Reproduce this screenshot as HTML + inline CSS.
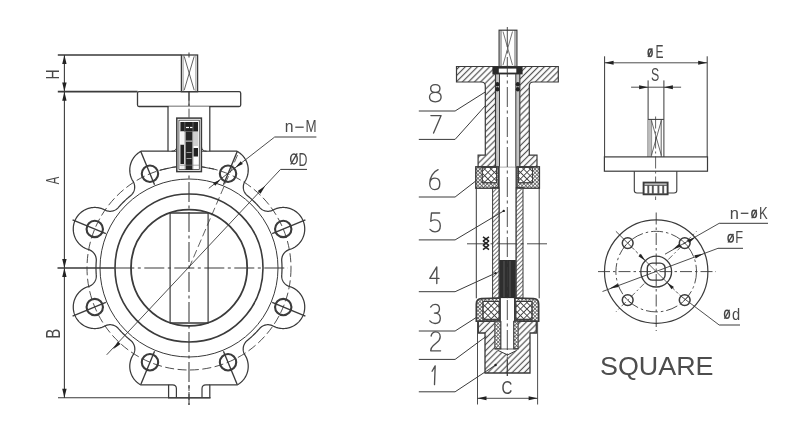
<!DOCTYPE html>
<html><head><meta charset="utf-8"><style>
html,body{margin:0;padding:0;background:#fff;}
svg{display:block;}
text{font-family:"Liberation Sans",sans-serif;opacity:0.999;}
</style></head><body>
<svg width="797" height="432" viewBox="0 0 797 432">
<defs><filter id="soft" x="0" y="0" width="797" height="432" filterUnits="userSpaceOnUse"><feGaussianBlur stdDeviation="0.45"/></filter></defs>
<g filter="url(#soft)">
<rect width="797" height="432" fill="#fff"/>
<line x1="57.80" y1="55.00" x2="181.40" y2="55.00" stroke="#3a3a3a" stroke-width="1.4" />
<line x1="57.80" y1="91.70" x2="137.50" y2="91.70" stroke="#3a3a3a" stroke-width="1.7" />
<line x1="64.40" y1="55.00" x2="64.40" y2="398.00" stroke="#3a3a3a" stroke-width="1.1" />
<polygon points="64.40,55.00 66.60,64.00 62.20,64.00" fill="#222"/>
<polygon points="64.40,91.50 62.20,82.50 66.60,82.50" fill="#222"/>
<polygon points="64.40,91.70 66.60,100.70 62.20,100.70" fill="#222"/>
<polygon points="64.40,268.00 62.20,259.00 66.60,259.00" fill="#222"/>
<polygon points="64.40,268.00 66.60,277.00 62.20,277.00" fill="#222"/>
<polygon points="64.40,397.80 62.20,388.80 66.60,388.80" fill="#222"/>
<line x1="58.00" y1="397.80" x2="210.60" y2="397.80" stroke="#3a3a3a" stroke-width="1.1" />
<path d="M89.51,249.89 L90.00,250.11 L90.47,250.35 L90.94,250.61 L91.39,250.89 L91.83,251.20 L92.25,251.53 L92.66,251.88 L93.05,252.24 L93.42,252.63 L93.77,253.03 L94.10,253.45 L94.41,253.89 L94.70,254.34 L94.97,254.80 L95.21,255.28 L95.44,255.77 L95.63,256.26 L95.80,256.77 L95.95,257.29 L96.07,257.81 L96.17,258.33 L96.24,258.86 L96.29,259.40 L96.31,259.93 L96.30,260.47 L96.27,261.00 L96.26,261.09 L96.25,261.23 L96.12,263.37 L96.11,263.50 L96.03,265.65 L96.03,265.79 L96.00,267.93 L96.00,268.07 L96.03,270.21 L96.03,270.35 L96.11,272.50 L96.12,272.63 L96.25,274.77 L96.26,274.91 L96.27,275.00 L96.30,275.53 L96.31,276.07 L96.29,276.60 L96.24,277.14 L96.17,277.67 L96.07,278.19 L95.95,278.71 L95.80,279.23 L95.63,279.74 L95.44,280.23 L95.21,280.72 L94.97,281.20 L94.70,281.66 L94.41,282.11 L94.10,282.55 L93.77,282.97 L93.42,283.37 L93.05,283.76 L92.66,284.12 L92.25,284.47 L91.83,284.80 L91.39,285.11 L90.94,285.39 L90.47,285.65 L90.00,285.89 L89.51,286.11 L89.01,286.30 L88.50,286.47 L88.39,286.50 L87.65,286.75 L87.40,286.84 L86.66,287.12 L86.41,287.23 L85.70,287.54 L85.45,287.66 L84.75,288.01 L84.51,288.14 L83.83,288.53 L83.60,288.66 L82.93,289.08 L82.71,289.23 L82.07,289.69 L81.85,289.85 L81.23,290.33 L81.02,290.50 L80.43,291.02 L80.23,291.20 L79.66,291.74 L79.47,291.93 L78.93,292.50 L78.75,292.70 L78.23,293.29 L78.06,293.50 L77.58,294.12 L77.42,294.34 L76.97,294.98 L76.82,295.20 L76.40,295.87 L76.26,296.10 L75.87,296.78 L75.74,297.02 L75.39,297.72 L75.27,297.96 L74.96,298.68 L74.85,298.93 L74.57,299.66 L74.48,299.92 L74.23,300.66 L74.15,300.92 L73.94,301.68 L73.88,301.94 L73.71,302.71 L73.65,302.97 L73.52,303.75 L73.48,304.01 L73.38,304.79 L73.36,305.06 L73.30,305.84 L73.29,306.11 L73.27,306.90 L73.27,307.17 L73.29,307.95 L73.30,308.22 L73.36,309.01 L73.38,309.28 L73.48,310.05 L73.52,310.32 L73.65,311.10 L73.71,311.36 L73.88,312.13 L73.94,312.39 L74.15,313.14 L74.23,313.40 L74.48,314.15 L74.57,314.40 L74.85,315.14 L74.96,315.38 L75.27,316.10 L75.39,316.35 L75.74,317.05 L75.87,317.29 L76.26,317.97 L76.40,318.20 L76.82,318.86 L76.97,319.09 L77.42,319.73 L77.58,319.95 L78.06,320.57 L78.23,320.78 L78.75,321.37 L78.93,321.57 L79.47,322.14 L79.66,322.33 L80.23,322.87 L80.43,323.05 L81.02,323.57 L81.23,323.74 L81.85,324.22 L82.07,324.38 L82.71,324.83 L82.93,324.98 L83.60,325.40 L83.83,325.54 L84.51,325.93 L84.75,326.06 L85.45,326.41 L85.70,326.52 L86.41,326.84 L86.66,326.95 L87.40,327.23 L87.65,327.32 L88.39,327.57 L88.65,327.64 L89.41,327.85 L89.67,327.92 L90.44,328.09 L90.70,328.14 L91.48,328.28 L91.74,328.32 L92.52,328.41 L92.79,328.44 L93.57,328.50 L93.84,328.51 L94.63,328.53 L94.90,328.53 L95.68,328.51 L95.95,328.50 L96.74,328.44 L97.01,328.41 L97.79,328.32 L98.05,328.28 L98.83,328.14 L99.09,328.09 L99.86,327.92 L100.12,327.85 L100.88,327.64 L101.13,327.57 L101.88,327.32 L102.13,327.23 L102.87,326.95 L103.12,326.84 L103.83,326.52 L104.08,326.41 L104.78,326.06 L104.87,326.00 L105.35,325.76 L105.84,325.55 L106.34,325.35 L106.85,325.18 L107.36,325.04 L107.89,324.92 L108.41,324.83 L108.94,324.76 L109.48,324.72 L110.01,324.71 L110.55,324.72 L111.08,324.75 L111.61,324.82 L112.14,324.90 L112.66,325.02 L113.18,325.16 L113.69,325.32 L114.19,325.51 L114.68,325.72 L115.16,325.96 L115.63,326.22 L116.08,326.50 L116.52,326.80 L116.95,327.13 L117.36,327.47 L117.75,327.84 L118.12,328.22 L118.48,328.62 L118.54,328.69 L118.62,328.80 L120.05,330.40 L120.14,330.50 L121.60,332.08 L121.69,332.18 L123.19,333.71 L123.29,333.81 L124.82,335.31 L124.92,335.40 L126.50,336.86 L126.60,336.95 L128.20,338.38 L128.31,338.46 L129.95,339.85 L130.05,339.93 L130.68,340.43 L131.09,340.78 L131.48,341.14 L131.85,341.52 L132.21,341.92 L132.54,342.34 L132.86,342.77 L133.15,343.22 L133.42,343.68 L133.67,344.16 L133.90,344.64 L134.10,345.14 L134.27,345.65 L134.43,346.16 L134.55,346.68 L134.65,347.20 L134.73,347.74 L134.78,348.27 L134.80,348.80 L134.80,349.34 L134.77,349.87 L134.72,350.41 L134.64,350.94 L134.53,351.46 L134.40,351.98 L134.24,352.49 L134.06,352.99 L133.85,353.49 L133.63,353.97 L133.37,354.44 L133.10,354.90 L132.85,355.29 L132.72,355.52 L132.34,356.19 L132.21,356.43 L131.86,357.12 L131.75,357.36 L131.43,358.06 L131.33,358.31 L131.05,359.03 L130.96,359.29 L130.72,360.02 L130.64,360.28 L130.44,361.02 L130.37,361.28 L130.20,362.03 L130.15,362.30 L130.02,363.06 L129.98,363.32 L129.88,364.09 L129.86,364.36 L129.80,365.13 L129.79,365.39 L129.77,366.17 L129.77,366.43 L129.79,367.21 L129.80,367.47 L129.86,368.24 L129.88,368.51 L129.98,369.28 L130.02,369.54 L130.15,370.30 L130.20,370.57 L130.37,371.32 L130.44,371.58 L130.64,372.32 L130.72,372.58 L130.96,373.31 L131.05,373.57 L131.33,374.29 L131.43,374.54 L131.75,375.24 L131.86,375.48 L132.21,376.17 L132.34,376.41 L132.72,377.08 L132.85,377.31 L133.27,377.96 L133.42,378.19 L133.86,378.82 L134.02,379.04 L134.50,379.64 L134.67,379.85 L135.17,380.43 L135.35,380.63 L135.88,381.19 L136.07,381.38 L136.63,381.92 L136.83,382.10 L137.41,382.60 L137.62,382.77 L138.23,383.24 L138.45,383.41 L139.08,383.85 L139.30,384.00 L139.95,384.41 L140.18,384.55 L140.63,384.80 L150.00,384.80 L161.31,384.80 L168.60,384.80 L168.60,397.80 L209.80,397.80 L209.80,384.80 L216.69,384.80 L228.00,384.80 L237.37,384.80 L237.82,384.55 L238.05,384.41 L238.70,384.00 L238.92,383.85 L239.55,383.41 L239.77,383.24 L240.38,382.77 L240.59,382.60 L241.17,382.10 L241.37,381.92 L241.93,381.38 L242.12,381.19 L242.65,380.63 L242.83,380.43 L243.33,379.85 L243.50,379.64 L243.98,379.04 L244.14,378.82 L244.58,378.19 L244.73,377.96 L245.15,377.31 L245.28,377.08 L245.66,376.41 L245.79,376.17 L246.14,375.48 L246.25,375.24 L246.57,374.54 L246.67,374.29 L246.95,373.57 L247.04,373.31 L247.28,372.58 L247.36,372.32 L247.56,371.58 L247.63,371.32 L247.80,370.57 L247.85,370.30 L247.98,369.54 L248.02,369.28 L248.12,368.51 L248.14,368.24 L248.20,367.47 L248.21,367.21 L248.23,366.43 L248.23,366.17 L248.21,365.39 L248.20,365.13 L248.14,364.36 L248.12,364.09 L248.02,363.32 L247.98,363.06 L247.85,362.30 L247.80,362.03 L247.63,361.28 L247.56,361.02 L247.36,360.28 L247.28,360.02 L247.04,359.29 L246.95,359.03 L246.67,358.31 L246.57,358.06 L246.25,357.36 L246.14,357.12 L245.79,356.43 L245.66,356.19 L245.28,355.52 L245.15,355.29 L244.90,354.90 L244.63,354.44 L244.37,353.97 L244.15,353.49 L243.94,352.99 L243.76,352.49 L243.60,351.98 L243.47,351.46 L243.36,350.94 L243.28,350.41 L243.23,349.87 L243.20,349.34 L243.20,348.80 L243.22,348.27 L243.27,347.74 L243.35,347.20 L243.45,346.68 L243.57,346.16 L243.73,345.65 L243.90,345.14 L244.10,344.64 L244.33,344.16 L244.58,343.68 L244.85,343.22 L245.14,342.77 L245.46,342.34 L245.79,341.92 L246.15,341.52 L246.52,341.14 L246.91,340.78 L247.32,340.43 L247.95,339.93 L248.05,339.85 L249.69,338.46 L249.80,338.38 L251.40,336.95 L251.50,336.86 L253.08,335.40 L253.18,335.31 L254.71,333.81 L254.81,333.71 L256.31,332.18 L256.40,332.08 L257.86,330.50 L257.95,330.40 L259.38,328.80 L259.46,328.69 L259.52,328.62 L259.88,328.22 L260.25,327.84 L260.64,327.47 L261.05,327.13 L261.48,326.80 L261.92,326.50 L262.37,326.22 L262.84,325.96 L263.32,325.72 L263.81,325.51 L264.31,325.32 L264.82,325.16 L265.34,325.02 L265.86,324.90 L266.39,324.82 L266.92,324.75 L267.45,324.72 L267.99,324.71 L268.52,324.72 L269.06,324.76 L269.59,324.83 L270.11,324.92 L270.64,325.04 L271.15,325.18 L271.66,325.35 L272.16,325.55 L272.65,325.76 L273.13,326.00 L273.22,326.06 L273.92,326.41 L274.17,326.52 L274.88,326.84 L275.13,326.95 L275.87,327.23 L276.12,327.32 L276.87,327.57 L277.12,327.64 L277.88,327.85 L278.14,327.92 L278.91,328.09 L279.17,328.14 L279.95,328.28 L280.21,328.32 L280.99,328.41 L281.26,328.44 L282.05,328.50 L282.32,328.51 L283.10,328.53 L283.37,328.53 L284.16,328.51 L284.43,328.50 L285.21,328.44 L285.48,328.41 L286.26,328.32 L286.52,328.28 L287.30,328.14 L287.56,328.09 L288.33,327.92 L288.59,327.85 L289.35,327.64 L289.61,327.57 L290.35,327.32 L290.60,327.23 L291.34,326.95 L291.59,326.84 L292.30,326.52 L292.55,326.41 L293.25,326.06 L293.49,325.93 L294.17,325.54 L294.40,325.40 L295.07,324.98 L295.29,324.83 L295.93,324.38 L296.15,324.22 L296.77,323.74 L296.98,323.57 L297.57,323.05 L297.77,322.87 L298.34,322.33 L298.53,322.14 L299.07,321.57 L299.25,321.37 L299.77,320.78 L299.94,320.57 L300.42,319.95 L300.58,319.73 L301.03,319.09 L301.18,318.86 L301.60,318.20 L301.74,317.97 L302.13,317.29 L302.26,317.05 L302.61,316.35 L302.73,316.10 L303.04,315.38 L303.15,315.14 L303.43,314.40 L303.52,314.15 L303.77,313.40 L303.85,313.14 L304.06,312.39 L304.12,312.13 L304.29,311.36 L304.35,311.10 L304.48,310.32 L304.52,310.05 L304.62,309.28 L304.64,309.01 L304.70,308.22 L304.71,307.95 L304.73,307.17 L304.73,306.90 L304.71,306.11 L304.70,305.84 L304.64,305.06 L304.62,304.79 L304.52,304.01 L304.48,303.75 L304.35,302.97 L304.29,302.71 L304.12,301.94 L304.06,301.68 L303.85,300.92 L303.77,300.66 L303.52,299.92 L303.43,299.66 L303.15,298.93 L303.04,298.68 L302.73,297.96 L302.61,297.72 L302.26,297.02 L302.13,296.78 L301.74,296.10 L301.60,295.87 L301.18,295.20 L301.03,294.98 L300.58,294.34 L300.42,294.12 L299.94,293.50 L299.77,293.29 L299.25,292.70 L299.07,292.50 L298.53,291.93 L298.34,291.74 L297.77,291.20 L297.57,291.02 L296.98,290.50 L296.77,290.33 L296.15,289.85 L295.93,289.69 L295.29,289.23 L295.07,289.08 L294.40,288.66 L294.17,288.53 L293.49,288.14 L293.25,288.01 L292.55,287.66 L292.30,287.54 L291.59,287.23 L291.34,287.12 L290.60,286.84 L290.35,286.75 L289.61,286.50 L289.50,286.47 L288.99,286.30 L288.49,286.11 L288.00,285.89 L287.53,285.65 L287.06,285.39 L286.61,285.11 L286.17,284.80 L285.75,284.47 L285.34,284.12 L284.95,283.76 L284.58,283.37 L284.23,282.97 L283.90,282.55 L283.59,282.11 L283.30,281.66 L283.03,281.20 L282.79,280.72 L282.56,280.23 L282.37,279.74 L282.20,279.23 L282.05,278.71 L281.93,278.19 L281.83,277.67 L281.76,277.14 L281.71,276.60 L281.69,276.07 L281.70,275.53 L281.73,275.00 L281.74,274.91 L281.75,274.77 L281.88,272.63 L281.89,272.50 L281.97,270.35 L281.97,270.21 L282.00,268.07 L282.00,267.93 L281.97,265.79 L281.97,265.65 L281.89,263.50 L281.88,263.37 L281.75,261.23 L281.74,261.09 L281.73,261.00 L281.70,260.47 L281.69,259.93 L281.71,259.40 L281.76,258.86 L281.83,258.33 L281.93,257.81 L282.05,257.29 L282.20,256.77 L282.37,256.26 L282.56,255.77 L282.79,255.28 L283.03,254.80 L283.30,254.34 L283.59,253.89 L283.90,253.45 L284.23,253.03 L284.58,252.63 L284.95,252.24 L285.34,251.88 L285.75,251.53 L286.17,251.20 L286.61,250.89 L287.06,250.61 L287.53,250.35 L288.00,250.11 L288.49,249.89 L288.99,249.70 L289.50,249.53 L289.61,249.50 L290.35,249.25 L290.60,249.16 L291.34,248.88 L291.59,248.77 L292.30,248.46 L292.55,248.34 L293.25,247.99 L293.49,247.86 L294.17,247.47 L294.40,247.34 L295.07,246.92 L295.29,246.77 L295.93,246.31 L296.15,246.15 L296.77,245.67 L296.98,245.50 L297.57,244.98 L297.77,244.80 L298.34,244.26 L298.53,244.07 L299.07,243.50 L299.25,243.30 L299.77,242.71 L299.94,242.50 L300.42,241.88 L300.58,241.66 L301.03,241.02 L301.18,240.80 L301.60,240.13 L301.74,239.90 L302.13,239.22 L302.26,238.98 L302.61,238.28 L302.73,238.04 L303.04,237.32 L303.15,237.07 L303.43,236.34 L303.52,236.08 L303.77,235.34 L303.85,235.08 L304.06,234.32 L304.12,234.06 L304.29,233.29 L304.35,233.03 L304.48,232.25 L304.52,231.99 L304.62,231.21 L304.64,230.94 L304.70,230.16 L304.71,229.89 L304.73,229.10 L304.73,228.83 L304.71,228.05 L304.70,227.78 L304.64,226.99 L304.62,226.72 L304.52,225.95 L304.48,225.68 L304.35,224.90 L304.29,224.64 L304.12,223.87 L304.06,223.61 L303.85,222.86 L303.77,222.60 L303.52,221.85 L303.43,221.60 L303.15,220.86 L303.04,220.62 L302.73,219.90 L302.61,219.65 L302.26,218.95 L302.13,218.71 L301.74,218.03 L301.60,217.80 L301.18,217.14 L301.03,216.91 L300.58,216.27 L300.42,216.05 L299.94,215.43 L299.77,215.22 L299.25,214.63 L299.07,214.43 L298.53,213.86 L298.34,213.67 L297.77,213.13 L297.57,212.95 L296.98,212.43 L296.77,212.26 L296.15,211.78 L295.93,211.62 L295.29,211.17 L295.07,211.02 L294.40,210.60 L294.17,210.46 L293.49,210.07 L293.25,209.94 L292.55,209.59 L292.30,209.48 L291.59,209.16 L291.34,209.05 L290.60,208.77 L290.35,208.68 L289.61,208.43 L289.35,208.36 L288.59,208.15 L288.33,208.08 L287.56,207.91 L287.30,207.86 L286.52,207.72 L286.26,207.68 L285.48,207.59 L285.21,207.56 L284.43,207.50 L284.16,207.49 L283.37,207.47 L283.10,207.47 L282.32,207.49 L282.05,207.50 L281.26,207.56 L280.99,207.59 L280.21,207.68 L279.95,207.72 L279.17,207.86 L278.91,207.91 L278.14,208.08 L277.88,208.15 L277.12,208.36 L276.87,208.43 L276.12,208.68 L275.87,208.77 L275.13,209.05 L274.88,209.16 L274.17,209.48 L273.92,209.59 L273.22,209.94 L273.13,210.00 L272.65,210.24 L272.16,210.45 L271.66,210.65 L271.15,210.82 L270.64,210.96 L270.11,211.08 L269.59,211.17 L269.06,211.24 L268.52,211.28 L267.99,211.29 L267.45,211.28 L266.92,211.25 L266.39,211.18 L265.86,211.10 L265.34,210.98 L264.82,210.84 L264.31,210.68 L263.81,210.49 L263.32,210.28 L262.84,210.04 L262.37,209.78 L261.92,209.50 L261.48,209.20 L261.05,208.87 L260.64,208.53 L260.25,208.16 L259.88,207.78 L259.52,207.38 L259.46,207.31 L259.38,207.20 L257.95,205.60 L257.86,205.50 L256.40,203.92 L256.31,203.82 L254.81,202.29 L254.71,202.19 L253.18,200.69 L253.08,200.60 L251.50,199.14 L251.40,199.05 L249.80,197.62 L249.69,197.54 L248.05,196.15 L247.95,196.07 L247.45,195.67 L247.04,195.33 L246.65,194.96 L246.27,194.58 L245.92,194.18 L245.58,193.76 L245.27,193.33 L244.97,192.88 L244.70,192.42 L244.45,191.94 L244.23,191.46 L244.03,190.96 L243.85,190.46 L243.70,189.94 L243.57,189.42 L243.47,188.90 L243.40,188.37 L243.35,187.83 L243.32,187.30 L243.33,186.76 L243.36,186.23 L243.41,185.70 L243.49,185.17 L243.60,184.64 L243.73,184.12 L243.88,183.61 L244.07,183.11 L244.27,182.61 L244.50,182.13 L244.75,181.66 L245.03,181.20 L245.15,181.01 L245.28,180.78 L245.66,180.11 L245.79,179.87 L246.14,179.18 L246.25,178.94 L246.57,178.24 L246.67,177.99 L246.95,177.27 L247.04,177.01 L247.28,176.28 L247.36,176.02 L247.56,175.28 L247.63,175.02 L247.80,174.27 L247.85,174.00 L247.98,173.24 L248.02,172.98 L248.12,172.21 L248.14,171.94 L248.20,171.17 L248.21,170.91 L248.23,170.13 L248.23,169.87 L248.21,169.09 L248.20,168.83 L248.14,168.06 L248.12,167.79 L248.02,167.02 L247.98,166.76 L247.85,166.00 L247.80,165.73 L247.63,164.98 L247.56,164.72 L247.36,163.98 L247.28,163.72 L247.04,162.99 L246.95,162.73 L246.67,162.01 L246.57,161.76 L246.25,161.06 L246.14,160.82 L245.79,160.13 L245.66,159.89 L245.28,159.22 L245.15,158.99 L244.73,158.34 L244.58,158.11 L244.14,157.48 L243.98,157.26 L243.50,156.66 L243.33,156.45 L242.83,155.87 L242.65,155.67 L242.12,155.11 L241.93,154.92 L241.37,154.38 L241.17,154.20 L240.59,153.70 L240.38,153.53 L239.77,153.06 L239.55,152.89 L238.92,152.45 L238.70,152.30 L238.05,151.89 L237.82,151.75 L237.14,151.37 L236.91,151.24 L236.82,151.20 L228.00,151.20 L217.25,151.20 L160.75,151.20 L150.00,151.20 L141.18,151.20 L141.09,151.24 L140.86,151.37 L140.18,151.75 L139.95,151.89 L139.30,152.30 L139.08,152.45 L138.45,152.89 L138.23,153.06 L137.62,153.53 L137.41,153.70 L136.83,154.20 L136.63,154.38 L136.07,154.92 L135.88,155.11 L135.35,155.67 L135.17,155.87 L134.67,156.45 L134.50,156.66 L134.02,157.26 L133.86,157.48 L133.42,158.11 L133.27,158.34 L132.85,158.99 L132.72,159.22 L132.34,159.89 L132.21,160.13 L131.86,160.82 L131.75,161.06 L131.43,161.76 L131.33,162.01 L131.05,162.73 L130.96,162.99 L130.72,163.72 L130.64,163.98 L130.44,164.72 L130.37,164.98 L130.20,165.73 L130.15,166.00 L130.02,166.76 L129.98,167.02 L129.88,167.79 L129.86,168.06 L129.80,168.83 L129.79,169.09 L129.77,169.87 L129.77,170.13 L129.79,170.91 L129.80,171.17 L129.86,171.94 L129.88,172.21 L129.98,172.98 L130.02,173.24 L130.15,174.00 L130.20,174.27 L130.37,175.02 L130.44,175.28 L130.64,176.02 L130.72,176.28 L130.96,177.01 L131.05,177.27 L131.33,177.99 L131.43,178.24 L131.75,178.94 L131.86,179.18 L132.21,179.87 L132.34,180.11 L132.72,180.78 L132.85,181.01 L132.97,181.20 L133.25,181.66 L133.50,182.13 L133.73,182.61 L133.93,183.11 L134.12,183.61 L134.27,184.12 L134.40,184.64 L134.51,185.17 L134.59,185.70 L134.64,186.23 L134.67,186.76 L134.68,187.30 L134.65,187.83 L134.60,188.37 L134.53,188.90 L134.43,189.42 L134.30,189.94 L134.15,190.46 L133.97,190.96 L133.77,191.46 L133.55,191.94 L133.30,192.42 L133.03,192.88 L132.73,193.33 L132.42,193.76 L132.08,194.18 L131.73,194.58 L131.35,194.96 L130.96,195.33 L130.55,195.67 L130.05,196.07 L129.95,196.15 L128.31,197.54 L128.20,197.62 L126.60,199.05 L126.50,199.14 L124.92,200.60 L124.82,200.69 L123.29,202.19 L123.19,202.29 L121.69,203.82 L121.60,203.92 L120.14,205.50 L120.05,205.60 L118.62,207.20 L118.54,207.31 L118.48,207.38 L118.12,207.78 L117.75,208.16 L117.36,208.53 L116.95,208.87 L116.52,209.20 L116.08,209.50 L115.63,209.78 L115.16,210.04 L114.68,210.28 L114.19,210.49 L113.69,210.68 L113.18,210.84 L112.66,210.98 L112.14,211.10 L111.61,211.18 L111.08,211.25 L110.55,211.28 L110.01,211.29 L109.48,211.28 L108.94,211.24 L108.41,211.17 L107.89,211.08 L107.36,210.96 L106.85,210.82 L106.34,210.65 L105.84,210.45 L105.35,210.24 L104.87,210.00 L104.78,209.94 L104.08,209.59 L103.83,209.48 L103.12,209.16 L102.87,209.05 L102.13,208.77 L101.88,208.68 L101.13,208.43 L100.88,208.36 L100.12,208.15 L99.86,208.08 L99.09,207.91 L98.83,207.86 L98.05,207.72 L97.79,207.68 L97.01,207.59 L96.74,207.56 L95.95,207.50 L95.68,207.49 L94.90,207.47 L94.63,207.47 L93.84,207.49 L93.57,207.50 L92.79,207.56 L92.52,207.59 L91.74,207.68 L91.48,207.72 L90.70,207.86 L90.44,207.91 L89.67,208.08 L89.41,208.15 L88.65,208.36 L88.39,208.43 L87.65,208.68 L87.40,208.77 L86.66,209.05 L86.41,209.16 L85.70,209.48 L85.45,209.59 L84.75,209.94 L84.51,210.07 L83.83,210.46 L83.60,210.60 L82.93,211.02 L82.71,211.17 L82.07,211.62 L81.85,211.78 L81.23,212.26 L81.02,212.43 L80.43,212.95 L80.23,213.13 L79.66,213.67 L79.47,213.86 L78.93,214.43 L78.75,214.63 L78.23,215.22 L78.06,215.43 L77.58,216.05 L77.42,216.27 L76.97,216.91 L76.82,217.14 L76.40,217.80 L76.26,218.03 L75.87,218.71 L75.74,218.95 L75.39,219.65 L75.27,219.90 L74.96,220.62 L74.85,220.86 L74.57,221.60 L74.48,221.85 L74.23,222.60 L74.15,222.86 L73.94,223.61 L73.88,223.87 L73.71,224.64 L73.65,224.90 L73.52,225.68 L73.48,225.95 L73.38,226.72 L73.36,226.99 L73.30,227.78 L73.29,228.05 L73.27,228.83 L73.27,229.10 L73.29,229.89 L73.30,230.16 L73.36,230.94 L73.38,231.21 L73.48,231.99 L73.52,232.25 L73.65,233.03 L73.71,233.29 L73.88,234.06 L73.94,234.32 L74.15,235.08 L74.23,235.34 L74.48,236.08 L74.57,236.34 L74.85,237.07 L74.96,237.32 L75.27,238.04 L75.39,238.28 L75.74,238.98 L75.87,239.22 L76.26,239.90 L76.40,240.13 L76.82,240.80 L76.97,241.02 L77.42,241.66 L77.58,241.88 L78.06,242.50 L78.23,242.71 L78.75,243.30 L78.93,243.50 L79.47,244.07 L79.66,244.26 L80.23,244.80 L80.43,244.98 L81.02,245.50 L81.23,245.67 L81.85,246.15 L82.07,246.31 L82.71,246.77 L82.93,246.92 L83.60,247.34 L83.83,247.47 L84.51,247.86 L84.75,247.99 L85.45,248.34 L85.70,248.46 L86.41,248.77 L86.66,248.88 L87.40,249.16 L87.65,249.25 L88.39,249.50 L88.50,249.53 L89.01,249.70 L89.51,249.89Z" stroke="#3a3a3a" stroke-width="1.25" fill="none" />
<circle cx="283.24" cy="228.97" r="8.20" stroke="#3a3a3a" stroke-width="2.1" fill="none" />
<line x1="272.15" y1="233.56" x2="305.41" y2="219.78" stroke="#3a3a3a" stroke-width="1.35" />
<circle cx="228.03" cy="173.76" r="8.20" stroke="#3a3a3a" stroke-width="2.1" fill="none" />
<line x1="223.44" y1="184.85" x2="237.22" y2="151.59" stroke="#3a3a3a" stroke-width="1.35" />
<circle cx="149.97" cy="173.76" r="8.20" stroke="#3a3a3a" stroke-width="2.1" fill="none" />
<line x1="154.56" y1="184.85" x2="140.78" y2="151.59" stroke="#3a3a3a" stroke-width="1.35" />
<circle cx="94.76" cy="228.97" r="8.20" stroke="#3a3a3a" stroke-width="2.1" fill="none" />
<line x1="105.85" y1="233.56" x2="72.59" y2="219.78" stroke="#3a3a3a" stroke-width="1.35" />
<circle cx="94.76" cy="307.03" r="8.20" stroke="#3a3a3a" stroke-width="2.1" fill="none" />
<line x1="105.85" y1="302.44" x2="72.59" y2="316.22" stroke="#3a3a3a" stroke-width="1.35" />
<circle cx="149.97" cy="362.24" r="8.20" stroke="#3a3a3a" stroke-width="2.1" fill="none" />
<line x1="154.56" y1="351.15" x2="140.78" y2="384.41" stroke="#3a3a3a" stroke-width="1.35" />
<circle cx="228.03" cy="362.24" r="8.20" stroke="#3a3a3a" stroke-width="2.1" fill="none" />
<line x1="223.44" y1="351.15" x2="237.22" y2="384.41" stroke="#3a3a3a" stroke-width="1.35" />
<circle cx="283.24" cy="307.03" r="8.20" stroke="#3a3a3a" stroke-width="2.1" fill="none" />
<line x1="272.15" y1="302.44" x2="305.41" y2="316.22" stroke="#3a3a3a" stroke-width="1.35" />
<circle cx="189.00" cy="268.00" r="102.00" stroke="#3a3a3a" stroke-width="0.9" fill="none" stroke-dasharray="9 3.5"/>
<path d="M159.60,170.33 A102.0,102.0 0 0 1 214.00,169.11" stroke="#3a3a3a" stroke-width="1.0" fill="none" />
<circle cx="189.00" cy="268.00" r="89.00" stroke="#3a3a3a" stroke-width="1.0" fill="none" />
<circle cx="189.00" cy="268.00" r="74.00" stroke="#3a3a3a" stroke-width="1.6" fill="none" />
<circle cx="189.10" cy="267.80" r="58.10" stroke="#3a3a3a" stroke-width="1.8" fill="none" />
<line x1="170.10" y1="212.50" x2="170.10" y2="323.60" stroke="#3a3a3a" stroke-width="1.2" />
<line x1="208.10" y1="212.50" x2="208.10" y2="323.60" stroke="#3a3a3a" stroke-width="1.2" />
<line x1="170.10" y1="213.00" x2="208.10" y2="213.00" stroke="#3a3a3a" stroke-width="1.5" />
<line x1="170.10" y1="323.10" x2="208.10" y2="323.10" stroke="#3a3a3a" stroke-width="1.5" />
<line x1="189.00" y1="52.50" x2="189.00" y2="57.50" stroke="#3a3a3a" stroke-width="1.0" />
<line x1="189.00" y1="92.00" x2="189.00" y2="405.00" stroke="#3a3a3a" stroke-width="1.05" stroke-dasharray="20 3.5 3 3.5"/>
<line x1="57.50" y1="268.00" x2="114.30" y2="268.00" stroke="#3a3a3a" stroke-width="1.3" />
<line x1="114.30" y1="268.00" x2="288.00" y2="268.00" stroke="#3a3a3a" stroke-width="1.05" stroke-dasharray="20 3.5 3 3.5"/>
<path d="M168.6,384.8 L172.5,384.8 Q176.4,384.8 176.4,388.7 L176.4,397.8" stroke="#3a3a3a" stroke-width="1.2" fill="none" />
<path d="M209.8,384.8 L205.9,384.8 Q202,384.8 202,388.7 L202,397.8" stroke="#3a3a3a" stroke-width="1.2" fill="none" />
<line x1="189.00" y1="385.00" x2="189.00" y2="405.00" stroke="#3a3a3a" stroke-width="0.9" stroke-dasharray="6 3"/>
<line x1="106.70" y1="354.80" x2="280.50" y2="169.40" stroke="#3a3a3a" stroke-width="0.9" />
<line x1="280.50" y1="169.40" x2="307.00" y2="169.40" stroke="#3a3a3a" stroke-width="1.0" />
<polygon points="113.10,349.30 117.94,341.50 120.57,343.96" fill="#222"/>
<polygon points="265.30,185.80 260.53,193.67 257.76,191.07" fill="#222"/>
<line x1="208.80" y1="188.30" x2="274.70" y2="137.00" stroke="#3a3a3a" stroke-width="0.9" />
<line x1="274.70" y1="137.00" x2="316.40" y2="137.00" stroke="#3a3a3a" stroke-width="1.0" />
<polygon points="220.50,179.50 215.33,185.87 213.10,183.04" fill="#222"/>
<polygon points="235.50,167.50 240.67,161.13 242.90,163.96" fill="#222"/>
<line x1="189.00" y1="268.00" x2="238.00" y2="154.00" stroke="#3a3a3a" stroke-width="0.8" stroke-dasharray="8 3.5"/>
<rect x="181.40" y="55.00" width="16.20" height="36.70" stroke="#3a3a3a" stroke-width="1.3" fill="none" />
<line x1="183.10" y1="55.00" x2="183.10" y2="91.70" stroke="#666" stroke-width="0.7" />
<line x1="195.90" y1="55.00" x2="195.90" y2="91.70" stroke="#666" stroke-width="0.7" />
<line x1="184.20" y1="56.30" x2="194.20" y2="90.20" stroke="#3a3a3a" stroke-width="0.8" />
<line x1="194.20" y1="56.30" x2="184.20" y2="90.20" stroke="#3a3a3a" stroke-width="0.8" />
<rect x="137.50" y="91.70" width="103.20" height="14.80" stroke="#3a3a3a" stroke-width="1.3" fill="none" rx="1.5"/>
<rect x="168.60" y="106.50" width="40.60" height="43.90" stroke="none" stroke-width="0" fill="#fff" />
<line x1="168.00" y1="106.50" x2="168.00" y2="151.20" stroke="#3a3a3a" stroke-width="1.25" />
<line x1="209.80" y1="106.50" x2="209.80" y2="151.20" stroke="#3a3a3a" stroke-width="1.25" />
<line x1="189.00" y1="91.70" x2="189.00" y2="118.00" stroke="#3a3a3a" stroke-width="0.9" stroke-dasharray="9 3 2 3"/>
<path d="M171.5,151.2 Q176.8,151.2 176.8,146 M206.7,151.2 Q201.4,151.2 201.4,146" stroke="#3a3a3a" stroke-width="1.0" fill="none" />
<rect x="176.80" y="118.10" width="24.60" height="53.50" stroke="#3a3a3a" stroke-width="1.5" fill="#fff" />
<rect x="178.90" y="120.20" width="20.40" height="49.20" stroke="#3a3a3a" stroke-width="0.8" fill="none" />
<rect x="180.40" y="122.00" width="17.60" height="9.50" stroke="none" stroke-width="0" fill="#222" />
<rect x="180.40" y="144.50" width="3.60" height="19.50" stroke="none" stroke-width="0" fill="#222" />
<rect x="185.50" y="131.50" width="7.00" height="38.50" stroke="none" stroke-width="0" fill="#262626" />
<rect x="193.50" y="148.00" width="4.50" height="8.50" stroke="none" stroke-width="0" fill="#222" />
<rect x="193.50" y="132.00" width="4.50" height="14.00" stroke="none" stroke-width="0" fill="#d0d0d0" />
<rect x="180.40" y="131.50" width="3.60" height="13.00" stroke="none" stroke-width="0" fill="#f4f4f4" />
<rect x="186.00" y="126.90" width="3.00" height="1.20" stroke="none" stroke-width="0" fill="#fff" />
<rect x="190.00" y="126.90" width="2.50" height="1.20" stroke="none" stroke-width="0" fill="#fff" />
<rect x="185.50" y="140.60" width="7.00" height="1.00" stroke="none" stroke-width="0" fill="#ddd" />
<rect x="186.50" y="152.00" width="5.00" height="1.00" stroke="none" stroke-width="0" fill="#999" />
<rect x="186.50" y="158.00" width="5.00" height="1.00" stroke="none" stroke-width="0" fill="#999" />
<rect x="180.40" y="164.00" width="3.60" height="5.00" stroke="none" stroke-width="0" fill="#eee" />
<line x1="184.80" y1="122.00" x2="184.80" y2="169.00" stroke="#888" stroke-width="0.6" />
<line x1="193.00" y1="122.00" x2="193.00" y2="169.00" stroke="#888" stroke-width="0.6" />
<line x1="179.50" y1="165.20" x2="199.00" y2="165.20" stroke="#888" stroke-width="0.7" />
<defs>
<filter id="gray"><feColorMatrix type="identity"/></filter>
<pattern id="h1" patternUnits="userSpaceOnUse" width="4.3" height="4.3" patternTransform="rotate(45)"><line x1="2.15" y1="0" x2="2.15" y2="4.3" stroke="#505050" stroke-width="1.2"/></pattern>
<pattern id="h2" patternUnits="userSpaceOnUse" width="3" height="3" patternTransform="rotate(45)"><line x1="1.5" y1="0" x2="1.5" y2="3" stroke="#666" stroke-width="0.9"/></pattern>
<pattern id="xh" patternUnits="userSpaceOnUse" width="4.6" height="4.6" patternTransform="rotate(45)"><line x1="2.3" y1="0" x2="2.3" y2="4.6" stroke="#444" stroke-width="0.9"/><line x1="0" y1="2.3" x2="4.6" y2="2.3" stroke="#444" stroke-width="0.9"/></pattern>
<pattern id="xh2" patternUnits="userSpaceOnUse" width="2.6" height="2.6" patternTransform="rotate(45)"><line x1="1.3" y1="0" x2="1.3" y2="2.6" stroke="#555" stroke-width="0.75"/><line x1="0" y1="1.3" x2="2.6" y2="1.3" stroke="#555" stroke-width="0.75"/></pattern>
</defs>
<rect x="499.10" y="30.20" width="17.80" height="36.30" stroke="#3a3a3a" stroke-width="1.2" fill="none" />
<line x1="501.00" y1="30.20" x2="501.00" y2="66.50" stroke="#3a3a3a" stroke-width="0.8" />
<line x1="515.00" y1="30.20" x2="515.00" y2="66.50" stroke="#3a3a3a" stroke-width="0.8" />
<line x1="503.00" y1="31.50" x2="512.50" y2="65.00" stroke="#3a3a3a" stroke-width="0.7" />
<line x1="512.50" y1="31.50" x2="503.00" y2="65.00" stroke="#3a3a3a" stroke-width="0.7" />
<path d="M456.5,66.5 L558.3,66.5 L558.3,82 L533.5,82 Q529.3,82 529.3,86 L529.3,155.2 L537,155.2 L537,166.8 L478.1,166.8 L478.1,155.2 L485.3,155.2 L485.3,86 Q485.3,82 481.1,82 L456.5,82 Z" stroke="#3a3a3a" stroke-width="1.2" fill="url(#h1)" />
<rect x="495.30" y="72.00" width="24.60" height="94.80" stroke="none" stroke-width="0" fill="#fff" />
<rect x="495.50" y="73.50" width="4.00" height="93.30" stroke="none" stroke-width="0" fill="#c4c4c4" />
<rect x="515.80" y="73.50" width="4.00" height="93.30" stroke="none" stroke-width="0" fill="#c4c4c4" />
<rect x="492.40" y="66.50" width="30.20" height="7.90" stroke="none" stroke-width="0" fill="#2a2a2a" />
<rect x="498.80" y="68.60" width="17.50" height="4.00" stroke="none" stroke-width="0" fill="#fff" />
<line x1="495.50" y1="73.50" x2="495.50" y2="166.80" stroke="#3a3a3a" stroke-width="1.2" />
<line x1="519.80" y1="73.50" x2="519.80" y2="166.80" stroke="#3a3a3a" stroke-width="1.2" />
<line x1="499.50" y1="73.50" x2="499.50" y2="166.80" stroke="#3a3a3a" stroke-width="1.0" />
<line x1="515.80" y1="73.50" x2="515.80" y2="166.80" stroke="#3a3a3a" stroke-width="1.0" />
<ellipse cx="497.4" cy="84.2" rx="2" ry="2.2" fill="#222"/>
<ellipse cx="517.8" cy="84.2" rx="2" ry="2.2" fill="#222"/>
<ellipse cx="497.4" cy="89.3" rx="2" ry="2.2" fill="#222"/>
<ellipse cx="517.8" cy="89.3" rx="2" ry="2.2" fill="#222"/>
<rect x="475.80" y="166.80" width="22.60" height="21.40" stroke="#3a3a3a" stroke-width="1.4" fill="url(#xh2)" />
<rect x="482.20" y="167.60" width="14.40" height="15.20" stroke="#3a3a3a" stroke-width="0.8" fill="#fff" />
<rect x="482.20" y="167.60" width="14.40" height="15.20" stroke="#3a3a3a" stroke-width="0.8" fill="url(#xh)" />
<rect x="516.90" y="166.80" width="22.50" height="21.40" stroke="#3a3a3a" stroke-width="1.4" fill="url(#xh2)" />
<rect x="518.60" y="167.60" width="13.90" height="15.20" stroke="#3a3a3a" stroke-width="0.8" fill="#fff" />
<rect x="518.60" y="167.60" width="13.90" height="15.20" stroke="#3a3a3a" stroke-width="0.8" fill="url(#xh)" />
<line x1="476.30" y1="187.60" x2="476.30" y2="298.30" stroke="#3a3a3a" stroke-width="1.0" />
<line x1="539.20" y1="187.60" x2="539.20" y2="298.30" stroke="#3a3a3a" stroke-width="1.0" />
<rect x="492.60" y="187.60" width="6.60" height="110.70" stroke="#3a3a3a" stroke-width="1.0" fill="url(#h2)" />
<rect x="516.00" y="187.60" width="7.00" height="110.70" stroke="#3a3a3a" stroke-width="1.0" fill="url(#h2)" />
<rect x="499.60" y="167.50" width="16.00" height="130.80" stroke="none" stroke-width="0" fill="#fff" />
<line x1="499.20" y1="166.80" x2="499.20" y2="298.30" stroke="#3a3a3a" stroke-width="1.0" />
<line x1="516.00" y1="166.80" x2="516.00" y2="298.30" stroke="#3a3a3a" stroke-width="1.0" />
<rect x="499.40" y="260.00" width="16.40" height="38.30" stroke="none" stroke-width="0" fill="#2d2d2d" />
<line x1="504.00" y1="261.00" x2="504.00" y2="297.00" stroke="#777" stroke-width="0.6" />
<line x1="510.00" y1="261.00" x2="510.00" y2="297.00" stroke="#777" stroke-width="0.6" />
<line x1="507.30" y1="27.00" x2="507.30" y2="376.00" stroke="#3a3a3a" stroke-width="0.9" stroke-dasharray="20 3.5 3 3.5"/>
<line x1="467.00" y1="243.80" x2="548.00" y2="243.80" stroke="#3a3a3a" stroke-width="0.9" stroke-dasharray="20 3.5 3 3.5"/>
<line x1="483.00" y1="236.80" x2="489.00" y2="241.20" stroke="#222" stroke-width="1.5" />
<line x1="489.00" y1="236.80" x2="483.00" y2="241.20" stroke="#222" stroke-width="1.5" />
<line x1="483.00" y1="241.00" x2="489.00" y2="245.40" stroke="#222" stroke-width="1.5" />
<line x1="489.00" y1="241.00" x2="483.00" y2="245.40" stroke="#222" stroke-width="1.5" />
<line x1="483.00" y1="245.20" x2="489.00" y2="249.60" stroke="#222" stroke-width="1.5" />
<line x1="489.00" y1="245.20" x2="483.00" y2="249.60" stroke="#222" stroke-width="1.5" />
<path d="M476.3,321.25 L476.3,304 Q476.3,298.8 481.5,298.6 L500.2,298.0 L500.2,321.25 Z" stroke="#3a3a3a" stroke-width="1.6" fill="url(#xh2)" />
<path d="M538.7,321.25 L538.7,304 Q538.7,298.8 533.5,298.6 L514.8,298.0 L514.8,321.25 Z" stroke="#3a3a3a" stroke-width="1.6" fill="url(#xh2)" />
<rect x="483.00" y="301.50" width="16.20" height="17.80" stroke="#3a3a3a" stroke-width="0.9" fill="#fff" />
<rect x="483.00" y="301.50" width="16.20" height="17.80" stroke="#3a3a3a" stroke-width="0.9" fill="url(#xh)" />
<rect x="515.80" y="301.50" width="16.20" height="17.80" stroke="#3a3a3a" stroke-width="0.9" fill="#fff" />
<rect x="515.80" y="301.50" width="16.20" height="17.80" stroke="#3a3a3a" stroke-width="0.9" fill="url(#xh)" />
<path d="M478.3,321.25 L536.3,321.25 L536.3,333 L530,333 L530,373 L485,373 L485,333 L478.3,333 Z" stroke="#3a3a3a" stroke-width="1.3" fill="url(#h1)" />
<path d="M494.8,321.25 L494.8,348.9 L497.9,350.4 L507.6,354.9 L516.7,350.4 L518.2,348.9 L518.2,321.25 Z" stroke="none" stroke-width="0" fill="#fff" />
<rect x="494.80" y="321.25" width="6.10" height="27.65" stroke="#3a3a3a" stroke-width="0.9" fill="url(#xh2)" />
<rect x="513.70" y="321.25" width="4.50" height="27.65" stroke="#3a3a3a" stroke-width="0.9" fill="url(#xh2)" />
<path d="M494.8,348.9 L518.2,348.9 M497.9,350.4 L507.6,354.9 L516.7,350.4" stroke="#3a3a3a" stroke-width="1.0" fill="none" />
<rect x="500.90" y="298.30" width="12.80" height="50.00" stroke="none" stroke-width="0" fill="#fff" />
<line x1="500.90" y1="321.00" x2="500.90" y2="348.90" stroke="#3a3a3a" stroke-width="1.0" />
<line x1="513.70" y1="321.00" x2="513.70" y2="348.90" stroke="#3a3a3a" stroke-width="1.0" />
<line x1="507.30" y1="300.00" x2="507.30" y2="376.00" stroke="#3a3a3a" stroke-width="0.9" stroke-dasharray="20 3.5 3 3.5"/>
<line x1="477.50" y1="321.00" x2="477.50" y2="404.50" stroke="#3a3a3a" stroke-width="0.9" />
<line x1="537.60" y1="321.00" x2="537.60" y2="404.50" stroke="#3a3a3a" stroke-width="0.9" />
<line x1="477.50" y1="398.30" x2="537.60" y2="398.30" stroke="#3a3a3a" stroke-width="0.9" />
<polygon points="477.50,398.30 486.50,396.30 486.50,400.30" fill="#222"/>
<polygon points="537.60,398.30 528.60,400.30 528.60,396.30" fill="#222"/>
<line x1="418.80" y1="111.00" x2="455.10" y2="111.00" stroke="#3a3a3a" stroke-width="1.0" />
<line x1="455.10" y1="111.00" x2="485.20" y2="92.00" stroke="#3a3a3a" stroke-width="1.0" />
<line x1="418.80" y1="139.40" x2="455.10" y2="139.40" stroke="#3a3a3a" stroke-width="1.0" />
<line x1="455.10" y1="139.40" x2="485.20" y2="105.90" stroke="#3a3a3a" stroke-width="1.0" />
<line x1="418.80" y1="197.00" x2="455.10" y2="197.00" stroke="#3a3a3a" stroke-width="1.0" />
<line x1="455.10" y1="197.00" x2="476.00" y2="180.80" stroke="#3a3a3a" stroke-width="1.0" />
<line x1="418.80" y1="239.90" x2="455.10" y2="239.90" stroke="#3a3a3a" stroke-width="1.0" />
<line x1="455.10" y1="239.90" x2="503.75" y2="210.90" stroke="#3a3a3a" stroke-width="1.0" />
<line x1="418.80" y1="291.70" x2="455.10" y2="291.70" stroke="#3a3a3a" stroke-width="1.0" />
<line x1="455.10" y1="291.70" x2="495.60" y2="273.10" stroke="#3a3a3a" stroke-width="1.0" />
<line x1="418.80" y1="331.00" x2="455.10" y2="331.00" stroke="#3a3a3a" stroke-width="1.0" />
<line x1="455.10" y1="331.00" x2="477.00" y2="317.00" stroke="#3a3a3a" stroke-width="1.0" />
<line x1="418.80" y1="359.40" x2="455.10" y2="359.40" stroke="#3a3a3a" stroke-width="1.0" />
<line x1="455.10" y1="359.40" x2="486.40" y2="336.20" stroke="#3a3a3a" stroke-width="1.0" />
<line x1="418.80" y1="391.80" x2="455.10" y2="391.80" stroke="#3a3a3a" stroke-width="1.0" />
<line x1="455.10" y1="391.80" x2="495.60" y2="365.00" stroke="#3a3a3a" stroke-width="1.0" />
<circle cx="503.75" cy="210.90" r="1.20" stroke="none" stroke-width="0" fill="#222" />
<circle cx="495.60" cy="273.10" r="1.20" stroke="none" stroke-width="0" fill="#222" />
<circle cx="495.60" cy="365.00" r="1.20" stroke="none" stroke-width="0" fill="#222" />
<line x1="604.60" y1="56.30" x2="604.60" y2="157.00" stroke="#3a3a3a" stroke-width="1.0" />
<line x1="707.20" y1="56.30" x2="707.20" y2="157.00" stroke="#3a3a3a" stroke-width="1.0" />
<line x1="604.60" y1="62.80" x2="707.20" y2="62.80" stroke="#3a3a3a" stroke-width="0.9" />
<polygon points="604.60,62.80 613.60,60.80 613.60,64.80" fill="#222"/>
<polygon points="707.20,62.80 698.20,64.80 698.20,60.80" fill="#222"/>
<line x1="648.10" y1="80.40" x2="648.10" y2="157.00" stroke="#3a3a3a" stroke-width="1.0" />
<line x1="663.90" y1="80.40" x2="663.90" y2="157.00" stroke="#3a3a3a" stroke-width="1.0" />
<line x1="631.10" y1="87.20" x2="681.10" y2="87.20" stroke="#3a3a3a" stroke-width="0.9" />
<polygon points="648.10,87.20 639.10,89.20 639.10,85.20" fill="#222"/>
<polygon points="663.90,87.20 672.90,85.20 672.90,89.20" fill="#222"/>
<rect x="648.10" y="119.40" width="3.50" height="37.60" stroke="none" stroke-width="0" fill="#bdbdbd" />
<line x1="651.60" y1="119.40" x2="651.60" y2="157.00" stroke="#777" stroke-width="0.7" />
<line x1="661.20" y1="119.40" x2="661.20" y2="157.00" stroke="#3a3a3a" stroke-width="0.8" />
<line x1="648.10" y1="119.40" x2="663.90" y2="119.40" stroke="#3a3a3a" stroke-width="1.0" />
<line x1="651.40" y1="120.40" x2="661.40" y2="155.50" stroke="#3a3a3a" stroke-width="0.75" />
<line x1="661.40" y1="120.40" x2="651.40" y2="155.50" stroke="#3a3a3a" stroke-width="0.75" />
<rect x="604.40" y="156.90" width="103.10" height="14.30" stroke="#3a3a3a" stroke-width="1.2" fill="none" />
<line x1="655.60" y1="116.50" x2="655.60" y2="200.00" stroke="#3a3a3a" stroke-width="0.8" stroke-dasharray="12 3 2 3"/>
<path d="M634.3,171.2 L634.3,190.5 Q634.3,193 637,193 L674,193 Q676.8,193 676.8,190.5 L676.8,171.2" stroke="#3a3a3a" stroke-width="1.1" fill="none" />
<rect x="643.60" y="182.60" width="24.00" height="11.70" stroke="#3a3a3a" stroke-width="1.9" fill="#fff" />
<line x1="644.00" y1="185.20" x2="667.00" y2="185.20" stroke="#555" stroke-width="1.3" />
<line x1="648.30" y1="185.00" x2="648.30" y2="194.30" stroke="#555" stroke-width="1.9" />
<line x1="652.80" y1="185.00" x2="652.80" y2="194.30" stroke="#555" stroke-width="1.9" />
<line x1="658.40" y1="185.00" x2="658.40" y2="194.30" stroke="#555" stroke-width="1.9" />
<line x1="663.20" y1="185.00" x2="663.20" y2="194.30" stroke="#555" stroke-width="1.9" />
<circle cx="656.20" cy="271.60" r="51.70" stroke="#3a3a3a" stroke-width="1.2" fill="none" />
<circle cx="656.20" cy="271.60" r="40.30" stroke="#3a3a3a" stroke-width="0.9" fill="none" stroke-dasharray="12 3 2.5 3"/>
<circle cx="627.70" cy="243.10" r="5.40" stroke="#3a3a3a" stroke-width="1.5" fill="none" />
<line x1="631.20" y1="239.60" x2="624.20" y2="246.60" stroke="#3a3a3a" stroke-width="0.8" />
<circle cx="684.70" cy="243.10" r="5.40" stroke="#3a3a3a" stroke-width="1.5" fill="none" />
<line x1="668.22" y1="259.58" x2="696.50" y2="231.30" stroke="#3a3a3a" stroke-width="0.8" stroke-dasharray="6 2.5 2 2.5"/>
<line x1="688.20" y1="246.60" x2="681.20" y2="239.60" stroke="#3a3a3a" stroke-width="0.8" />
<circle cx="627.70" cy="300.10" r="5.40" stroke="#3a3a3a" stroke-width="1.5" fill="none" />
<line x1="644.18" y1="283.62" x2="615.90" y2="311.90" stroke="#3a3a3a" stroke-width="0.8" stroke-dasharray="6 2.5 2 2.5"/>
<line x1="624.20" y1="296.60" x2="631.20" y2="303.60" stroke="#3a3a3a" stroke-width="0.8" />
<circle cx="684.70" cy="300.10" r="5.40" stroke="#3a3a3a" stroke-width="1.5" fill="none" />
<line x1="681.20" y1="303.60" x2="688.20" y2="296.60" stroke="#3a3a3a" stroke-width="0.8" />
<line x1="615.90" y1="231.30" x2="632.16" y2="247.56" stroke="#3a3a3a" stroke-width="0.9" />
<line x1="632.16" y1="247.56" x2="639.94" y2="255.34" stroke="#3a3a3a" stroke-width="0.9" stroke-dasharray="3 2"/>
<line x1="639.94" y1="255.34" x2="672.46" y2="287.86" stroke="#3a3a3a" stroke-width="0.9" />
<line x1="672.46" y1="287.86" x2="680.24" y2="295.64" stroke="#3a3a3a" stroke-width="0.9" stroke-dasharray="3 2"/>
<line x1="680.24" y1="295.64" x2="719.20" y2="325.00" stroke="#3a3a3a" stroke-width="0.9" />
<line x1="719.20" y1="325.00" x2="740.00" y2="325.00" stroke="#3a3a3a" stroke-width="1.0" />
<polygon points="645.31,260.71 638.45,256.26 640.86,253.85" fill="#222"/>
<polygon points="667.09,282.49 673.95,286.94 671.54,289.35" fill="#222"/>
<circle cx="656.20" cy="271.60" r="15.40" stroke="#3a3a3a" stroke-width="1.3" fill="#fff" />
<rect x="647.30" y="263.10" width="17.80" height="17.00" stroke="#3a3a3a" stroke-width="1.4" fill="none" rx="5"/>
<line x1="645.20" y1="260.60" x2="667.20" y2="282.60" stroke="#3a3a3a" stroke-width="0.8" />
<line x1="656.20" y1="212.50" x2="656.20" y2="331.00" stroke="#3a3a3a" stroke-width="0.9" stroke-dasharray="12 3 2.5 3"/>
<line x1="598.00" y1="271.60" x2="716.00" y2="271.60" stroke="#3a3a3a" stroke-width="0.9" stroke-dasharray="12 3 2.5 3"/>
<line x1="602.50" y1="291.50" x2="718.00" y2="248.30" stroke="#3a3a3a" stroke-width="0.9" />
<line x1="718.00" y1="248.30" x2="743.00" y2="248.30" stroke="#3a3a3a" stroke-width="1.0" />
<polygon points="609.70,288.50 617.50,283.66 618.76,287.03" fill="#222"/>
<polygon points="703.50,253.70 695.70,258.54 694.44,255.17" fill="#222"/>
<line x1="665.00" y1="254.20" x2="719.20" y2="223.30" stroke="#3a3a3a" stroke-width="0.9" />
<line x1="719.20" y1="223.30" x2="768.00" y2="223.30" stroke="#3a3a3a" stroke-width="1.0" />
<polygon points="695.20,237.50 689.14,243.03 687.36,239.90" fill="#222"/>
<polygon points="673.00,249.20 679.06,243.67 680.84,246.80" fill="#222"/>
<path d="M5,0 C2.2,0 1,1.6 1,3.6 C1,5.6 2.6,7.2 5,7.2 C7.4,7.2 9,5.6 9,3.6 C9,1.6 7.8,0 5,0 Z M5,7.2 C2,7.2 0,9 0,11.6 C0,14.2 2,16 5,16 C8,16 10,14.2 10,11.6 C10,9 8,7.2 5,7.2 Z" transform="matrix(1.1600 0 0 1.0750 429.50 84.60)" fill="none" stroke="#4f4f4f" stroke-width="1.35" vector-effect="non-scaling-stroke" stroke-linecap="round" stroke-linejoin="round"/>
<path d="M0,0.4 L10,0.4 L2.6,16" transform="matrix(1.0200 0 0 1.1250 430.90 115.10)" fill="none" stroke="#4f4f4f" stroke-width="1.35" vector-effect="non-scaling-stroke" stroke-linecap="round" stroke-linejoin="round"/>
<path d="M8.2,0 C4,1.5 0.3,6 0.3,11 C0.3,14 2.3,16 5.1,16 C8,16 9.8,14 9.8,11.3 C9.8,8.6 8,6.8 5.2,6.8 C3,6.8 1.2,8 0.5,10" transform="matrix(1.0600 0 0 1.2438 429.40 169.70)" fill="none" stroke="#4f4f4f" stroke-width="1.35" vector-effect="non-scaling-stroke" stroke-linecap="round" stroke-linejoin="round"/>
<path d="M9.4,0.3 L1.6,0.3 L0.9,7.2 C2,6.4 3.3,6 4.8,6 C8,6 10,8 10,11 C10,14 8,16 5,16 C3,16 1.3,15.3 0.2,14" transform="matrix(1.0500 0 0 1.2000 429.80 212.60)" fill="none" stroke="#4f4f4f" stroke-width="1.35" vector-effect="non-scaling-stroke" stroke-linecap="round" stroke-linejoin="round"/>
<path d="M7.6,16 L7.6,0 L0,11 L10,11" transform="matrix(0.9200 0 0 1.0438 429.80 266.90)" fill="none" stroke="#4f4f4f" stroke-width="1.35" vector-effect="non-scaling-stroke" stroke-linecap="round" stroke-linejoin="round"/>
<path d="M0.8,2.2 C1.8,0.8 3.2,0 5,0 C7.5,0 9.2,1.6 9.2,3.8 C9.2,6 7.4,7.3 4.4,7.3 C8,7.3 10,9 10,11.6 C10,14.3 8,16 5,16 C3,16 1.2,15.2 0,13.8" transform="matrix(1.0500 0 0 1.1938 429.80 304.40)" fill="none" stroke="#4f4f4f" stroke-width="1.35" vector-effect="non-scaling-stroke" stroke-linecap="round" stroke-linejoin="round"/>
<path d="M0.6,3.4 C1.2,1.2 3,0 5.2,0 C7.8,0 9.6,1.7 9.6,4 C9.6,6 8.4,7.4 6,9 L2.6,11.4 C1,12.6 0.2,14 0.2,15.6 L10,15.6" transform="matrix(1.0100 0 0 1.2125 430.50 331.90)" fill="none" stroke="#4f4f4f" stroke-width="1.35" vector-effect="non-scaling-stroke" stroke-linecap="round" stroke-linejoin="round"/>
<path d="M0.5,4.6 L6,0 L4.8,16" transform="matrix(0.5600 0 0 1.1688 431.80 365.90)" fill="none" stroke="#4f4f4f" stroke-width="1.35" vector-effect="non-scaling-stroke" stroke-linecap="round" stroke-linejoin="round"/>
<ellipse cx="293.95" cy="158.95" rx="3.30" ry="4.95" fill="none" stroke="#444" stroke-width="1.45"/>
<line x1="290.72" y1="164.50" x2="297.18" y2="153.40" stroke="#444" stroke-width="1.305"/>
<ellipse cx="650.15" cy="52.70" rx="2.00" ry="3.70" fill="none" stroke="#444" stroke-width="1.45"/>
<line x1="648.01" y1="57.00" x2="652.29" y2="48.40" stroke="#444" stroke-width="1.305"/>
<ellipse cx="754.15" cy="213.95" rx="2.30" ry="3.65" fill="none" stroke="#444" stroke-width="1.45"/>
<line x1="751.76" y1="218.20" x2="756.54" y2="209.70" stroke="#444" stroke-width="1.305"/>
<ellipse cx="730.70" cy="238.20" rx="2.65" ry="3.70" fill="none" stroke="#444" stroke-width="1.45"/>
<line x1="728.01" y1="242.50" x2="733.39" y2="233.90" stroke="#444" stroke-width="1.305"/>
<ellipse cx="727.00" cy="314.25" rx="2.45" ry="3.95" fill="none" stroke="#444" stroke-width="1.45"/>
<line x1="724.48" y1="318.80" x2="729.52" y2="309.70" stroke="#444" stroke-width="1.305"/>
<g filter="url(#gray)">
<text x="0" y="0" font-size="40" fill="#4a4a4a" transform="matrix(0.4357 0 0 0.3478 59.100 79.443) rotate(-90)">H</text>
</g>
<g filter="url(#gray)">
<text x="0" y="0" font-size="40" fill="#4a4a4a" transform="matrix(0.4393 0 0 0.2846 59.300 184.300) rotate(-90)">A</text>
</g>
<g filter="url(#gray)">
<text x="0" y="0" font-size="40" fill="#4a4a4a" transform="matrix(0.4821 0 0 0.3762 60.300 338.629) rotate(-90)">B</text>
</g>
<g filter="url(#gray)">
<text x="0" y="0" font-size="40" fill="#4a4a4a" transform="matrix(0.3941 0 0 0.3955 284.818 132.400) rotate(0)">n</text>
</g>
<g filter="url(#gray)">
<text x="0" y="0" font-size="40" fill="#4a4a4a" transform="matrix(0.3333 0 0 0.4357 305.600 132.400) rotate(0)">M</text>
</g>
<g filter="url(#gray)">
<text x="0" y="0" font-size="40" fill="#4a4a4a" transform="matrix(0.3083 0 0 0.4750 298.375 165.600) rotate(0)">D</text>
</g>
<g filter="url(#gray)">
<text x="0" y="0" font-size="40" fill="#4a4a4a" transform="matrix(0.3760 0 0 0.4714 501.548 394.100) rotate(0)">C</text>
</g>
<g filter="url(#gray)">
<text x="0" y="0" font-size="40" fill="#4a4a4a" transform="matrix(0.3000 0 0 0.4536 655.400 58.300) rotate(0)">E</text>
</g>
<g filter="url(#gray)">
<text x="0" y="0" font-size="40" fill="#4a4a4a" transform="matrix(0.3087 0 0 0.4357 651.083 81.200) rotate(0)">S</text>
</g>
<g filter="url(#gray)">
<text x="0" y="0" font-size="40" fill="#4a4a4a" transform="matrix(0.4118 0 0 0.3955 729.765 218.500) rotate(0)">n</text>
</g>
<g filter="url(#gray)">
<text x="0" y="0" font-size="40" fill="#4a4a4a" transform="matrix(0.3261 0 0 0.4321 759.022 218.500) rotate(0)">K</text>
</g>
<g filter="url(#gray)">
<text x="0" y="0" font-size="40" fill="#4a4a4a" transform="matrix(0.3200 0 0 0.4321 735.240 242.800) rotate(0)">F</text>
</g>
<g filter="url(#gray)">
<text x="0" y="0" font-size="40" fill="#4a4a4a" transform="matrix(0.3667 0 0 0.3933 731.967 320.100) rotate(0)">d</text>
</g>
<g filter="url(#gray)">
<text x="0" y="0" font-size="40" fill="#4d4d4d" transform="matrix(0.6727 0 0 0.6607 599.955 374.800) rotate(0)">SQUARE</text>
</g>
<line x1="295.30" y1="127.20" x2="303.70" y2="127.20" stroke="#4a4a4a" stroke-width="1.3" />
<line x1="740.80" y1="213.30" x2="748.40" y2="213.30" stroke="#4a4a4a" stroke-width="1.3" />
</g>
</svg></body></html>
